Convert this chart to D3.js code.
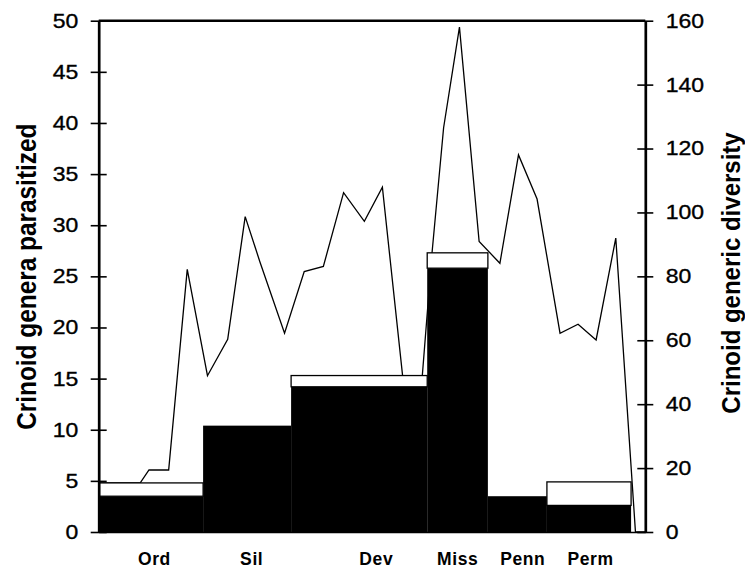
<!DOCTYPE html>
<html><head><meta charset="utf-8">
<script src="https://cdn.jsdelivr.net/npm/d3@7"></script>
<style>body{margin:0;background:#fff} svg{display:block}</style>
</head><body>
<script>
// Periods (x positions in relative time units 0-100 along the axis)
const periods = ["Ord", "Sil", "Dev", "Miss", "Penn", "Perm"];
const periodStart = [0, 19.1, 35.2, 60.1, 71.2, 82.0];
const periodEnd = [19.1, 35.2, 60.1, 71.2, 82.0, 97.4];
const periodLabelPos = [10.1, 27.9, 50.7, 65.6, 77.5, 89.9];
// Crinoid genera parasitized (left axis): black = confirmed, white box top = incl. questionable
const generaParasitized = [3.5, 10.4, 14.2, 25.8, 3.5, 2.6];
const generaParasitizedMax = [4.8, 10.4, 15.3, 27.3, 3.5, 4.9];
// Crinoid generic diversity (right axis)
const diversityTime = [0, 7.6, 9.2, 12.8, 16.2, 19.9, 23.6, 26.8, 29.5, 34.0, 37.6, 41.1, 44.8, 48.6, 51.9, 55.6, 59.2, 61.0, 63.1, 66.0, 69.6, 73.4, 76.8, 80.2, 84.4, 87.7, 91.0, 94.6, 98.2, 100];
const diversityValue = [15.4, 15.4, 19.4, 19.4, 82.2, 48.9, 60.3, 98.7, 84.5, 62.2, 81.5, 83.1, 106.2, 97.2, 107.9, 48.9, 48.9, 87.7, 126.5, 158, 90.9, 84.1, 118, 104.2, 62.2, 65, 60.1, 92, 0, 0];
const leftTicks = [0, 5, 10, 15, 20, 25, 30, 35, 40, 45, 50];
const rightTicks = [0, 20, 40, 60, 80, 100, 120, 140, 160];
const leftTitle = "Crinoid genera parasitized";
const rightTitle = "Crinoid generic diversity";

const W = 745, H = 568;
const FONT = "'Liberation Sans', Arial, Helvetica, sans-serif";
const plot = {l: 98.7, r: 645.3, t: 20.7, b: 532};

const svg = d3.select("body").append("svg").attr("width", W).attr("height", H)
  .style("font-family", FONT);

const x = d3.scaleLinear().domain([0, 100]).range([plot.l, plot.r]);
const yL = d3.scaleLinear().domain([0, 50]).range([plot.b, plot.t]);
const yR = d3.scaleLinear().domain([0, 160]).range([plot.b, plot.t]);

// diversity line (drawn behind bars)
const divData = diversityTime.map((t, i) => [t, diversityValue[i]]);
svg.append("path").datum(divData)
  .attr("fill", "none").attr("stroke", "#000").attr("stroke-width", 1.3)
  .attr("stroke-linejoin", "miter")
  .attr("d", d3.line().x(d => x(d[0])).y(d => yR(d[1])));

// bars
const bars = periods.map((p, i) => ({p, s: periodStart[i], e: periodEnd[i], v: generaParasitized[i], m: generaParasitizedMax[i]}));
const g = svg.append("g");
g.selectAll("rect.black").data(bars).join("rect").attr("class", "black")
  .attr("x", d => x(d.s)).attr("width", d => x(d.e) - x(d.s))
  .attr("y", d => yL(d.v)).attr("height", d => yL(0) - yL(d.v))
  .attr("fill", "#000");
g.selectAll("rect.white").data(bars.filter(d => d.m > d.v)).join("rect").attr("class", "white")
  .attr("x", d => x(d.s)).attr("width", d => x(d.e) - x(d.s))
  .attr("y", d => yL(d.m)).attr("height", d => yL(d.v) - yL(d.m))
  .attr("fill", "#fff").attr("stroke", "#000").attr("stroke-width", 1.3);

// top border
svg.append("line").attr("x1", plot.l).attr("x2", plot.r).attr("y1", plot.t).attr("y2", plot.t)
  .attr("stroke", "#000").attr("stroke-width", 2.6);

// bottom axis
const xAxis = d3.axisBottom(x).tickValues(periodLabelPos)
  .tickFormat((d, i) => periods[i]).tickSize(0).tickSizeOuter(0).tickPadding(21);
const gx = svg.append("g").attr("transform", `translate(0,${plot.b})`).call(xAxis);
gx.select(".domain").attr("stroke", "#000").attr("stroke-width", 1.6);
gx.selectAll("text").attr("font-size", 17.5).attr("font-weight", "bold")
  .attr("font-family", FONT).attr("fill", "#000").attr("letter-spacing", "0.6px")
  .attr("dy", "0.71em");

const SX = 1.15;
// left axis
const yAxisL = d3.axisLeft(yL).tickValues(leftTicks).tickSize(8).tickSizeOuter(0).tickPadding(12.4);
const gl = svg.append("g").attr("transform", `translate(${plot.l},0)`).call(yAxisL);
gl.select(".domain").attr("stroke", "#000").attr("stroke-width", 2.7);
gl.selectAll(".tick line").attr("x1", 8).attr("stroke", "#000").attr("stroke-width", 1.6);
gl.selectAll("text").attr("font-size", 20).attr("font-family", FONT).attr("fill", "#000")
  .attr("stroke", "#000").attr("stroke-width", 0.35)
  .attr("x", -20.4 / SX).attr("transform", `scale(${SX},1)`);

// right axis
const yAxisR = d3.axisRight(yR).tickValues(rightTicks).tickSize(8).tickSizeOuter(0).tickPadding(12.4);
const gr = svg.append("g").attr("transform", `translate(${plot.r},0)`).call(yAxisR);
gr.select(".domain").attr("stroke", "#000").attr("stroke-width", 2.7);
gr.selectAll(".tick line").attr("x1", -8).attr("stroke", "#000").attr("stroke-width", 1.6);
gr.selectAll("text").attr("font-size", 20).attr("font-family", FONT).attr("fill", "#000")
  .attr("stroke", "#000").attr("stroke-width", 0.35)
  .attr("x", 20.4 / SX).attr("transform", `scale(${SX},1)`);

// axis titles
svg.append("text").attr("transform", `translate(35.5,276.7) rotate(-90) scale(1,1.15)`)
  .attr("text-anchor", "middle").attr("font-size", 24.4).attr("font-weight", "bold")
  .attr("fill", "#000").text(leftTitle);
svg.append("text").attr("transform", `translate(740,273) rotate(-90) scale(1,1.07)`)
  .attr("text-anchor", "middle").attr("font-size", 24).attr("font-weight", "bold")
  .attr("fill", "#000").text(rightTitle);
</script>
</body></html>
